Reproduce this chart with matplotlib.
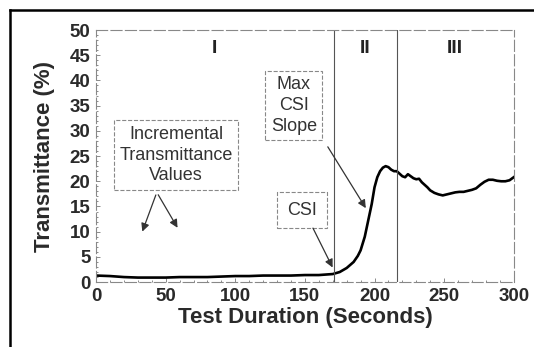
import numpy as np
import matplotlib
matplotlib.use('Agg')
import matplotlib.pyplot as plt
from matplotlib.lines import Line2D
from matplotlib.ticker import MultipleLocator

plt.rcParams['font.family'] = ['Liberation Sans', 'DejaVu Sans']

# Courbe de transmittance
temps = [0, 10, 20, 30, 40, 50, 60, 70, 80, 90, 100, 110, 120, 130, 140, 150,
         160, 165, 170, 175, 180, 185, 188, 190, 193, 195, 197, 198, 200, 202,
         204, 206, 208, 210, 212, 214, 216, 218, 220, 222, 224, 226, 228, 230,
         232, 234, 236, 238, 240, 243, 246, 249, 252, 255, 258, 261, 264, 267,
         270, 273, 276, 279, 282, 285, 288, 291, 294, 297, 300]
transmittance = [1.3, 1.2, 1.0, 0.9, 0.9, 0.9, 1.0, 1.0, 1.0, 1.1, 1.2, 1.2, 1.3,
                 1.3, 1.3, 1.4, 1.4, 1.5, 1.6, 2.0, 2.8, 4.0, 5.2, 6.3, 9.0, 11.6,
                 14.2, 15.5, 18.8, 20.8, 22.0, 22.7, 23.0, 22.8, 22.3, 22.0, 22.0,
                 21.5, 21.0, 20.8, 21.4, 21.0, 20.6, 20.4, 20.5, 19.8, 19.3, 18.8,
                 18.2, 17.7, 17.4, 17.2, 17.4, 17.6, 17.8, 17.9, 17.9, 18.1, 18.3,
                 18.6, 19.3, 19.9, 20.3, 20.3, 20.1, 20.0, 20.0, 20.2, 20.8]

# limites des zones I / II / III
limites = [171, 216]
zones = ['I', 'II', 'III']
zones_x = [84.7, 193.5, 257.6]

fig = plt.figure(figsize=(5.34, 3.47), dpi=100)
ax = fig.add_axes([0.18, 0.187, 0.782, 0.7265])

ax.plot(temps, transmittance, color='black', lw=1.9)
for x in limites:
    ax.axvline(x, color='#555555', lw=0.8)
for nom, x in zip(zones, zones_x):
    ax.text(x, 46.3, nom, ha='center', va='center', fontsize=14,
            fontweight='bold', color='#222222')

ax.set_xlim(0, 300)
ax.set_ylim(0, 50)
ax.xaxis.set_major_locator(MultipleLocator(50))
ax.yaxis.set_major_locator(MultipleLocator(5))
ax.xaxis.set_minor_locator(MultipleLocator(10))
ax.yaxis.set_minor_locator(MultipleLocator(1))
ax.tick_params(which='both', direction='in', color='#777777', width=0.6)
ax.tick_params(which='major', length=3, labelsize=13.5, pad=4)
ax.tick_params(which='minor', length=1.5)
for lab in ax.get_xticklabels() + ax.get_yticklabels():
    lab.set_fontweight('bold')
    lab.set_color('#2a2a2a')
for s in ax.spines.values():
    s.set_color('#888888')
    s.set_linewidth(0.8)
    s.set_linestyle((0, (10, 3)))

ax.set_xlabel('Test Duration (Seconds)', fontsize=16, fontweight='bold',
              color='#2a2a2a', labelpad=2)
ax.set_ylabel('Transmittance (%)', fontsize=16, fontweight='bold',
              color='#2a2a2a', labelpad=11)

boite = dict(boxstyle='square,pad=0.3', fc='white', ec='#888888', lw=0.8, ls='--')
fleche = dict(arrowstyle='-|>', color='#333333', lw=0.9, mutation_scale=12)

ax.text(57.5, 25.2, 'Incremental\nTransmittance\nValues', ha='center', va='center',
        fontsize=13, color='#333333', linespacing=1.3, bbox=boite)
ax.annotate('', xy=(32.5, 9.5), xytext=(43.6, 17.8), arrowprops=fleche)
ax.annotate('', xy=(59.5, 10.3), xytext=(43.6, 17.8), arrowprops=fleche)

ax.text(142, 35, 'Max\nCSI\nSlope', ha='center', va='center',
        fontsize=13, color='#333333', linespacing=1.3, bbox=boite)
ax.annotate('', xy=(194.8, 14.2), xytext=(165.4, 27.3), arrowprops=fleche)

ax.text(148, 14.3, 'CSI', ha='center', va='center',
        fontsize=13, color='#333333', bbox=dict(boxstyle='square,pad=0.55', fc='white',
                                                  ec='#888888', lw=0.8, ls='--'))
ax.annotate('', xy=(170.8, 2.4), xytext=(154.9, 11.2), arrowprops=fleche)

# cadre noir autour de la figure
fig.add_artist(Line2D([9.5 / 534, 1.0], [1 - 10 / 347, 1 - 10 / 347],
                      transform=fig.transFigure, color='black', lw=1.8))
fig.add_artist(Line2D([9.5 / 534, 9.5 / 534], [0, 1 - 10 / 347],
                      transform=fig.transFigure, color='black', lw=1.8))

fig.savefig('out.png', dpi=100)
